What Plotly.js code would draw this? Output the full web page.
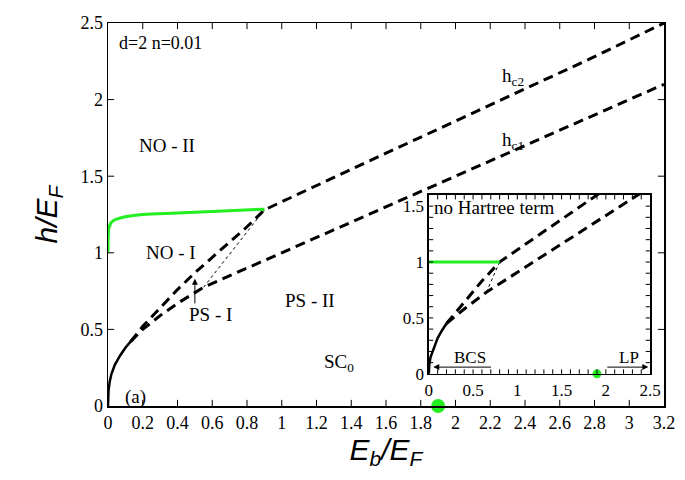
<!DOCTYPE html>
<html>
<head>
<meta charset="utf-8">
<script src="https://cdn.plot.ly/plotly-3.0.1.min.js"></script>
<style>
  body { margin: 0; background: #fff; }
  #phase { width: 685px; height: 480px; }
</style>
</head>
<body>
<div id="phase"></div>
<script>
// main panel (with Hartree term)
var solidX = [0, 0.003, 0.01, 0.02, 0.04, 0.07, 0.1, 0.13];
var solidY = [0, 0.1, 0.16, 0.21, 0.27, 0.33, 0.38, 0.42];

var hc2X = [0.13, 0.2, 0.3, 0.4, 0.5, 0.6, 0.7, 0.8, 0.9, 1.2, 1.6, 2.0, 2.4, 2.8, 3.2];
var hc2Y = [0.42, 0.52, 0.64, 0.76, 0.87, 0.97, 1.07, 1.17, 1.28, 1.44, 1.65, 1.86, 2.07, 2.28, 2.5];

var hc1X = [0.13, 0.2, 0.3, 0.4, 0.5, 0.55, 1.0, 1.6, 2.2, 2.8, 3.2];
var hc1Y = [0.42, 0.5, 0.59, 0.67, 0.74, 0.775, 1.0, 1.3, 1.6, 1.9, 2.1];

var dotX = [0.55, 0.9];
var dotY = [0.775, 1.28];

var greenX = [0, 0.001, 0.005, 0.02, 0.05, 0.1, 0.2, 0.4, 0.6, 0.9];
var greenY = [1.0, 1.1, 1.16, 1.2, 1.22, 1.235, 1.25, 1.26, 1.27, 1.285];

var lpX = [1.9];
var lpY = [0];

// inset (no Hartree term)
var inSolidX = [0, 0.005, 0.02, 0.05, 0.1, 0.15, 0.2];
var inSolidY = [0, 0.08, 0.15, 0.21, 0.32, 0.39, 0.45];

var inHc2X = [0.2, 0.4, 0.6, 0.8, 1.2, 1.6, 1.9, 2.2];
var inHc2Y = [0.45, 0.64, 0.83, 1.0, 1.22, 1.44, 1.6, 1.76];

var inHc1X = [0.2, 0.4, 0.65, 1.2, 1.8, 2.36, 2.5];
var inHc1Y = [0.45, 0.58, 0.73, 1.01, 1.32, 1.6, 1.67];

var inDotX = [0.65, 0.8];
var inDotY = [0.73, 1.0];

var inGreenX = [0, 0.8];
var inGreenY = [1.0, 1.0];

var inLpX = [1.9];
var inLpY = [0];

var serif = 'Liberation Serif';
var sans = 'Liberation Sans';
var dashed = {color: 'black', width: 3, dash: '10px,6px'};

var data = [
  {x: solidX, y: solidY, mode: 'lines', line: {color: 'black', width: 2.5}},
  {x: hc2X, y: hc2Y, mode: 'lines', line: dashed},
  {x: hc1X, y: hc1Y, mode: 'lines', line: dashed},
  {x: dotX, y: dotY, mode: 'lines', line: {color: 'black', width: 1, dash: 'dot'}},
  {x: greenX, y: greenY, mode: 'lines', line: {color: '#22ee22', width: 3, shape: 'spline'}},
  {x: lpX, y: lpY, mode: 'markers', cliponaxis: false, marker: {color: '#22ee22', size: 14}},

  {x: inSolidX, y: inSolidY, xaxis: 'x2', yaxis: 'y2', mode: 'lines', line: {color: 'black', width: 2.5}},
  {x: inHc2X, y: inHc2Y, xaxis: 'x2', yaxis: 'y2', mode: 'lines', line: dashed},
  {x: inHc1X, y: inHc1Y, xaxis: 'x2', yaxis: 'y2', mode: 'lines', line: dashed},
  {x: inDotX, y: inDotY, xaxis: 'x2', yaxis: 'y2', mode: 'lines', line: {color: 'black', width: 1, dash: 'dot'}},
  {x: inGreenX, y: inGreenY, xaxis: 'x2', yaxis: 'y2', mode: 'lines', line: {color: '#22ee22', width: 3}},
  {x: inLpX, y: inLpY, xaxis: 'x2', yaxis: 'y2', mode: 'markers', cliponaxis: false, marker: {color: '#22ee22', size: 9}}
];

function label(x, y, text, xref, yref, anchor, size) {
  return {x: x, y: y, xref: xref || 'x', yref: yref || 'y', text: text, showarrow: false,
          xanchor: anchor || 'center', font: {family: serif, size: size || 19, color: 'black'}};
}

function arrow(x, y, ax, ay, xref, yref) {
  return {x: x, y: y, ax: ax, ay: ay, xref: xref, yref: yref, axref: xref, ayref: yref,
          text: '', showarrow: true, arrowhead: 2, arrowsize: 1.2, arrowwidth: 1, arrowcolor: 'black'};
}

// inward tick marks on all four sides, built from the axis range and step
// (len is a fraction of the plot box)
function tickShapes(xr, yr, xmin, xmax, xstep, ymin, ymax, ystep, lenX, lenY) {
  var s = [], v, i;
  var st = {type: 'line', layer: 'above', line: {color: 'black', width: 1}};
  for (i = 1; (v = xmin + i * xstep) < xmax - 1e-9; i++) {
    s.push(Object.assign({}, st, {xref: xr, yref: yr + ' domain', x0: v, x1: v, y0: 0, y1: lenX}));
    s.push(Object.assign({}, st, {xref: xr, yref: yr + ' domain', x0: v, x1: v, y0: 1, y1: 1 - lenX}));
  }
  for (i = 1; (v = ymin + i * ystep) < ymax - 1e-9; i++) {
    s.push(Object.assign({}, st, {xref: xr + ' domain', yref: yr, x0: 0, x1: lenY, y0: v, y1: v}));
    s.push(Object.assign({}, st, {xref: xr + ' domain', yref: yr, x0: 1, x1: 1 - lenY, y0: v, y1: v}));
  }
  return s;
}

var shapes = tickShapes('x', 'y', 0, 3.2, 0.2, 0, 2.5, 0.5, 0.016, 0.011)
  .concat(tickShapes('x2', 'y2', 0, 2.5, 0.1, 0, 1.6, 0.1, 0.025, 0.02));

var layout = {
  width: 685,
  height: 480,
  margin: {l: 108, r: 21, t: 23, b: 74},
  showlegend: false,
  paper_bgcolor: 'white',
  plot_bgcolor: 'white',
  font: {family: serif, size: 18, color: 'black'},
  xaxis: {
    range: [0, 3.2], dtick: 0.2, tick0: 0, ticks: '',
    showline: true, linewidth: 1.5, linecolor: 'black', mirror: true,
    showgrid: false, zeroline: false,
    tickfont: {family: serif, size: 18},
    title: {text: '<i>E<sub>b</sub>/E<sub>F</sub></i>', font: {family: sans, size: 30}, standoff: 4}
  },
  yaxis: {
    range: [0, 2.5], dtick: 0.5, tick0: 0, ticks: '',
    showline: true, linewidth: 1.5, linecolor: 'black', mirror: true,
    showgrid: false, zeroline: false,
    tickfont: {family: serif, size: 18},
    title: {text: '<i>h/E<sub>F</sub></i>', font: {family: sans, size: 30}, standoff: 14}
  },
  xaxis2: {
    domain: [0.577, 0.975], anchor: 'y2',
    range: [0, 2.5], dtick: 0.5, tick0: 0, ticks: '',
    showline: true, linewidth: 1.5, linecolor: 'black', mirror: true,
    showgrid: false, zeroline: false,
    tickfont: {family: serif, size: 17}
  },
  yaxis2: {
    domain: [0.084, 0.551], anchor: 'x2',
    range: [0, 1.6], dtick: 0.5, tick0: 0, ticks: '',
    showline: true, linewidth: 1.5, linecolor: 'black', mirror: true,
    showgrid: false, zeroline: false,
    tickfont: {family: serif, size: 17}
  },
  shapes: shapes,
  annotations: [
    label(0.30, 2.37, 'd=2 n=0.01', 'x', 'y', 'center', 18),
    label(0.34, 1.7, 'NO - II'),
    label(0.36, 1.0, 'NO - I'),
    label(1.16, 0.69, 'PS - II'),
    label(0.59, 0.6, 'PS - I'),
    label(1.33, 0.28, 'SC<sub>0</sub>'),
    label(2.33, 2.15, 'h<sub>c2</sub>'),
    label(2.33, 1.73, 'h<sub>c1</sub>'),
    label(0.16, 0.06, '(a)'),
    arrow(0.5, 0.83, 0.5, 0.66, 'x', 'y'),
    label(0.04, 1.49, 'no Hartree term', 'x2', 'y2', 'left', 19),
    label(0.47, 0.15, 'BCS', 'x2', 'y2', 'center', 17),
    arrow(0.05, 0.06, 0.72, 0.06, 'x2', 'y2'),
    label(2.26, 0.15, 'LP', 'x2', 'y2', 'center', 17),
    arrow(2.48, 0.06, 2.0, 0.06, 'x2', 'y2')
  ]
};

Plotly.newPlot('phase', data, layout, {staticPlot: true});
</script>
</body>
</html>
